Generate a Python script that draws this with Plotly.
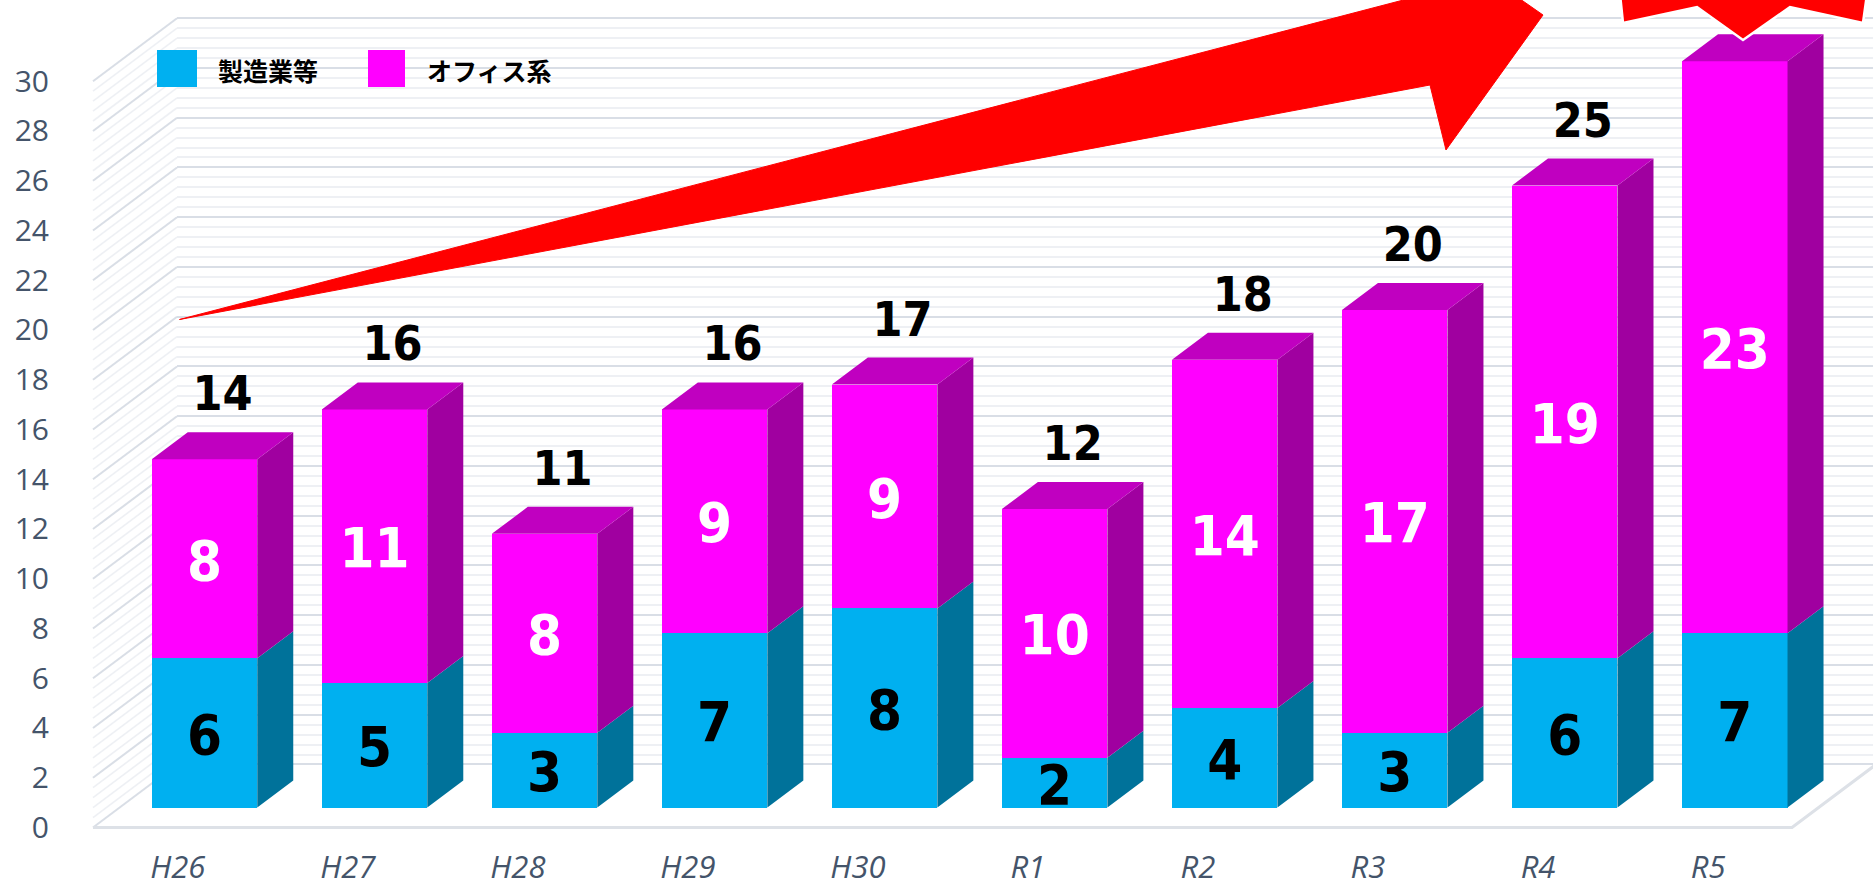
import plotly.graph_objects as go

# ---------------- data ----------------
categories = ["H26", "H27", "H28", "H29", "H30", "R1", "R2", "R3", "R4", "R5"]
manufacturing = [6, 5, 3, 7, 8, 2, 4, 3, 6, 7]          # 製造業等
office = [8, 11, 8, 9, 9, 10, 14, 17, 19, 23]           # オフィス系
series_names = ["製造業等", "オフィス系"]
y_tick_values = list(range(0, 31, 2))
y_top = 30
major_step = 2
minor_step = 0.4

totals = [m + o for m, o in zip(manufacturing, office)]
idx = list(range(len(categories)))

# ---------------- geometry (pixels) ----------------
W, H = 1873, 890
ML, MB = 50, 45
PW, PH = W - ML, H - MB

CAT0 = 177.8        # front-plane x of first category
STEP = 170.03       # px per category
ZERO = 827.5        # front-plane y of value 0
UNIT = 24.877       # px per value unit
WALL_DX, WALL_DY = 84.0, 63.0
FRONT_DX, FRONT_DY = 26.7, 20.0
DEPTH_DX, DEPTH_DY = 36.0, 27.0
BAR_PX = 105.5
LEFT_WALL_PX = 93.0
FLOOR_RIGHT_PX = 1792.0
TOTAL_GAP_PX = 34.0     # total label centre above the back edge of the top face
INNER_DROP_PX = 7.0     # optical centring of segment labels

BLUE = "#00B0F0"
BLUE_SIDE = "#00729A"
MAG = "#FF00FF"
MAG_SIDE = "#A000A0"
MAG_TOP = "#C000C0"
AXIS_TXT = "#44546A"
GRID_MAJOR = "#D9DEE6"
GRID_MINOR = "#EEF0F4"
NUM_FONT = "DejaVu Sans Condensed, DejaVu Sans, sans-serif"


def u_of(px):
    return (px - CAT0) / STEP


def v_of(py):
    return (ZERO - py) / UNIT


def px_paper(px):
    return (px - ML) / PW


def py_paper(py):
    return (H - MB - py) / PH


x2_range = [u_of(ML), u_of(W)]
y2_range = [v_of(H - MB), v_of(0)]
sx, sy = FRONT_DX / STEP, FRONT_DY / UNIT
x3_range = [x2_range[0] - sx, x2_range[1] - sx]
y3_range = [y2_range[0] - sy, y2_range[1] - sy]
ddx, ddy = DEPTH_DX / STEP, DEPTH_DY / UNIT
half = BAR_PX / STEP / 2
wdx, wdy = WALL_DX / STEP, WALL_DY / UNIT
drop = INNER_DROP_PX / UNIT

fig = go.Figure()

# ---- back wall subplot (x / y): gridlines only ----
fig.add_trace(go.Scatter(x=[], y=[], xaxis="x", yaxis="y", showlegend=False, hoverinfo="skip"))

# ---- front plane subplot (x2 / y2): left wall + floor lines ----
lw_front = u_of(LEFT_WALL_PX)
n_lines = int(round(y_top / minor_step))
maj_x, maj_y, min_x, min_y = [], [], [], []
for k in range(n_lines + 1):
    v = round(k * minor_step, 3)
    xs = [lw_front, lw_front + wdx, None]
    ys = [v, v + wdy, None]
    if k % int(round(major_step / minor_step)) == 0:
        maj_x += xs
        maj_y += ys
    else:
        min_x += xs
        min_y += ys
fig.add_trace(go.Scatter(x=min_x, y=min_y, mode="lines", xaxis="x2", yaxis="y2",
                         line=dict(color=GRID_MINOR, width=1.6), showlegend=False, hoverinfo="skip"))
fig.add_trace(go.Scatter(x=maj_x, y=maj_y, mode="lines", xaxis="x2", yaxis="y2",
                         line=dict(color=GRID_MAJOR, width=2), showlegend=False, hoverinfo="skip"))
fr = u_of(FLOOR_RIGHT_PX)
fig.add_trace(go.Scatter(x=[lw_front, fr, fr + wdx], y=[0, 0, wdy], mode="lines", xaxis="x2", yaxis="y2",
                         line=dict(color="#DDE1E7", width=3), showlegend=False, hoverinfo="skip"))

# ---- bars subplot (x3 / y3 overlay) ----
fig.add_trace(go.Bar(x=idx, y=manufacturing, name=series_names[0], xaxis="x3", yaxis="y3",
                     width=2 * half, marker=dict(color=BLUE, line=dict(width=0)), showlegend=False))
fig.add_trace(go.Bar(x=idx, y=office, name=series_names[1], xaxis="x3", yaxis="y3",
                     width=2 * half, marker=dict(color=MAG, line=dict(width=0)), showlegend=False))

bs_x, bs_y, ms_x, ms_y, mt_x, mt_y = [], [], [], [], [], []
for i, m, t in zip(idx, manufacturing, totals):
    r = i + half
    bs_x += [r, r + ddx, r + ddx, r, r, None]
    bs_y += [0, ddy, m + ddy, m, 0, None]
    ms_x += [r, r + ddx, r + ddx, r, r, None]
    ms_y += [m, m + ddy, t + ddy, t, m, None]
    l = i - half
    mt_x += [l, r, r + ddx, l + ddx, l, None]
    mt_y += [t, t, t + ddy, t + ddy, t, None]
for xs, ys, col in [(bs_x, bs_y, BLUE_SIDE), (ms_x, ms_y, MAG_SIDE), (mt_x, mt_y, MAG_TOP)]:
    fig.add_trace(go.Scatter(x=xs, y=ys, mode="lines", fill="toself", fillcolor=col,
                             line=dict(width=0, color=col), xaxis="x3", yaxis="y3",
                             showlegend=False, hoverinfo="skip"))

# segment labels
fig.add_trace(go.Scatter(x=idx, y=[m / 2 - drop for m in manufacturing], mode="text",
                         text=[str(m) for m in manufacturing], xaxis="x3", yaxis="y3",
                         textfont=dict(family=NUM_FONT, size=56, color="black", weight="bold"),
                         textposition="middle center", showlegend=False, hoverinfo="skip", cliponaxis=False))
fig.add_trace(go.Scatter(x=idx, y=[m + o / 2 - drop for m, o in zip(manufacturing, office)], mode="text",
                         text=[str(o) for o in office], xaxis="x3", yaxis="y3",
                         textfont=dict(family=NUM_FONT, size=56, color="white", weight="bold"),
                         textposition="middle center", showlegend=False, hoverinfo="skip", cliponaxis=False))
# totals
fig.add_trace(go.Scatter(x=[i + ddx / 2 for i in idx], y=[t + ddy + TOTAL_GAP_PX / UNIT for t in totals],
                         mode="text", text=[str(t) for t in totals], xaxis="x3", yaxis="y3",
                         textfont=dict(family=NUM_FONT, size=48, color="black", weight="bold"),
                         textposition="middle center", showlegend=False, hoverinfo="skip", cliponaxis=False))

# ---------------- layout ----------------
wall_left = LEFT_WALL_PX + WALL_DX
pad = 0.15
wall_bottom_py = ZERO - WALL_DY + pad * UNIT
wall_top_py = ZERO - WALL_DY - (y_top + pad) * UNIT

fig.update_layout(
    width=W, height=H, autosize=False,
    margin=dict(l=ML, r=0, t=0, b=MB, pad=0, autoexpand=False),
    paper_bgcolor="white", plot_bgcolor="rgba(0,0,0,0)",
    barmode="stack", showlegend=False,
    xaxis=dict(domain=[px_paper(wall_left), 1], range=[0, 1], visible=False, anchor="y", automargin=False),
    yaxis=dict(domain=[py_paper(wall_bottom_py), py_paper(wall_top_py)], range=[-pad, y_top + pad],
               anchor="x", showticklabels=False, ticks="", showline=False, zeroline=False, automargin=False,
               showgrid=True, gridcolor=GRID_MAJOR, gridwidth=2, dtick=major_step, tick0=0,
               minor=dict(dtick=minor_step, tick0=0, showgrid=True, gridcolor=GRID_MINOR, gridwidth=1.6)),
    xaxis2=dict(domain=[0, 1], range=x2_range, anchor="y2", tickmode="array", tickvals=idx,
                ticktext=categories, showgrid=False, zeroline=False, showline=False, ticks="",
                automargin=False,
                tickfont=dict(family="Open Sans, sans-serif", size=31, color=AXIS_TXT, style="italic"),
                ticklabelstandoff=1),
    yaxis2=dict(domain=[0, 1], range=y2_range, anchor="x2", tickmode="array", tickvals=y_tick_values,
                ticktext=[str(v) for v in y_tick_values], showgrid=False, zeroline=False, showline=False,
                ticks="", automargin=False,
                tickfont=dict(family="Open Sans, sans-serif", size=30, color=AXIS_TXT)),
    xaxis3=dict(range=x3_range, overlaying="x2", anchor="y3", visible=False, automargin=False),
    yaxis3=dict(range=y3_range, overlaying="y2", anchor="x3", visible=False, automargin=False),
)

# red arrow (decoration)
arrow_pts = [(179.5, 319.5), (1480, -20), (1490, -22), (1543, 15), (1446, 150), (1430, 85)]
path = "M " + " L ".join(f"{px_paper(x):.5f},{py_paper(y):.5f}" for x, y in arrow_pts) + " Z"
fig.add_shape(type="path", path=path, xref="paper", yref="paper", fillcolor="#FF0000",
              line=dict(color="#FF0000", width=1), layer="above")
tail_pts = [(1620, -6), (1623, 23), (1697, 7), (1743, 40), (1790, 7), (1863, 23), (1867, -6)]
path2 = "M " + " L ".join(f"{px_paper(x):.5f},{py_paper(y):.5f}" for x, y in tail_pts) + " Z"
fig.add_shape(type="path", path=path2, xref="paper", yref="paper", fillcolor="#FF0000",
              line=dict(color="white", width=2.5), layer="above")

# legend (drawn)
legend_items = [(series_names[0], BLUE, 157, 197, 216), (series_names[1], MAG, 368, 405, 425)]
for name, col, x0, x1, tx in legend_items:
    fig.add_shape(type="rect", xref="paper", yref="paper", x0=px_paper(x0), x1=px_paper(x1),
                  y0=py_paper(87), y1=py_paper(50), fillcolor=col, line=dict(width=0), layer="above")
    fig.add_annotation(text=name, xref="paper", yref="paper", x=px_paper(tx), y=py_paper(70),
                       xanchor="left", yanchor="middle", showarrow=False,
                       font=dict(family="Noto Sans CJK JP", size=25, color="black", weight="bold"))

fig.write_html("out.html",
               config={"displayModeBar": False, "responsive": False},
               post_script="document.documentElement.style.margin='0';document.body.style.margin='0';"
                           "document.body.style.overflow='hidden';")
